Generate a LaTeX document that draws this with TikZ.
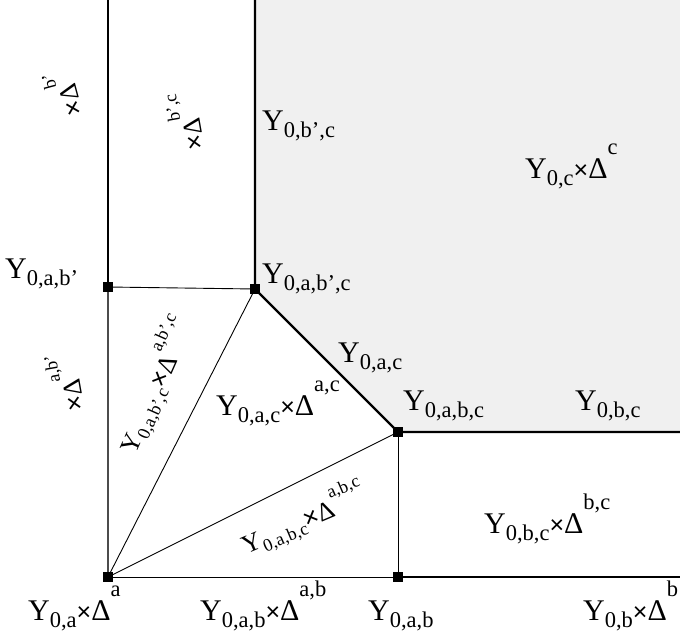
\documentclass[tikz,border=0pt]{standalone}
\usepackage{fontspec}
\setmainfont{Liberation Serif}
\newfontfamily\sansx{Liberation Sans}
\newcommand\mainsz{\fontsize{30}{32}\selectfont}
\newcommand\subsz{\fontsize{22.5}{23}\selectfont}
\newcommand\Ysb[1]{Y\raisebox{-7pt}{\subsz #1}}
\newcommand\XD[1]{{\sansx\fontsize{25}{25}\selectfont ×}Δ\raisebox{24pt}{\subsz #1}}
\newcommand\rotsz{\fontsize{26}{28}\selectfont}
\newcommand\rsub[1]{\raisebox{-5pt}{\fontsize{18}{19}\selectfont #1}}
\newcommand\rsup[1]{\raisebox{19pt}{\fontsize{18}{19}\selectfont #1}}
\tikzset{
  lab/.style={anchor=base west, inner sep=0pt, font=\mainsz},
  rlab/.style={anchor=center, inner sep=0pt, font=\rotsz, text=black},
  thick line/.style={line width=2.4pt, black},
  thin line/.style={line width=0.9pt, black},
  gray line/.style={line width=1.2pt, black!70},
  dot/.style={fill=black, minimum size=10pt, inner sep=0pt, draw=none, rectangle},
  region/.style={fill=black!6, draw=none}
}
\begin{document}
\begin{tikzpicture}[x=1pt,y=-1pt]
\useasboundingbox (0,0) rectangle (680,634);
% coordinates
\coordinate (tl) at (108,0);
\coordinate (tm) at (255,0);
\coordinate (tr) at (680,0);
\coordinate (rm) at (680,432);
\coordinate (rb) at (680,577);
\node[dot] (ab1) at (108,287) {};
\node[dot] (abc1) at (255,289) {};
\node[dot] (abc) at (398,432) {};
\node[dot] (a) at (108,577) {};
\node[dot] (ab) at (398,577) {};
% gray region
\fill[region] (tm.center) -- (tr) -- (rm) -- (abc.center) -- (abc1.center) -- cycle;
% lines
\draw[thick line] (tl) -- (ab1.center);
\draw[thick line] (tm) -- (abc1.center) -- (abc.center) -- (rm);
\draw[thick line] (ab.center) -- (rb);
\draw[gray line] (ab1.center) -- (a.center);
\draw[thin line] (ab1.center) -- (abc1.center);
\draw[thin line] (a.center) -- (abc1.center);
\draw[thin line] (a.center) -- (abc.center);
\draw[thin line] (a.center) -- (ab.center);
\draw[thin line] (abc.center) -- (ab.center);
% redraw dots on top
\foreach \n in {ab1,abc1,abc,a,ab} \fill (\n.south west) rectangle (\n.north east);
% labels
\node[lab] (l1) at (262,130) {\Ysb{0,b’,c}};
\node[lab] (l2) at (525,178) {\Ysb{0,c}\XD{c}};
\node[lab] (l3) at (5,278) {\Ysb{0,a,b’}};
\node[lab] (l4) at (262,283) {\Ysb{0,a,b’,c}};
\node[lab] (l5) at (338,362) {\Ysb{0,a,c}};
\node[lab] (l6) at (403,410) {\Ysb{0,a,b,c}};
\node[lab] (l7) at (575,410) {\Ysb{0,b,c}};
\node[lab] (l8) at (216,415) {\Ysb{0,a,c}\XD{a,c}};
\node[lab] (l9) at (484,533) {\Ysb{0,b,c}\XD{b,c}};
\node[lab] (l10) at (28,620) {\Ysb{0,a}\XD{a}};
\node[lab] (l11) at (200,620) {\Ysb{0,a,b}\XD{a,b}};
\node[lab] (l12) at (368,620) {\Ysb{0,a,b}};
\node[lab] (l13) at (583,620) {\Ysb{0,b}\XD{b}};
% rotated labels
\node[rlab, rotate=105] (r1) at (62,95) {{\sansx ×}Δ\rsup{b’}};
\node[rlab, rotate=100] (r2) at (184,122) {{\sansx ×}Δ\rsup{b’,c}};
\node[rlab, rotate=100] (r3) at (64,383) {{\sansx ×}Δ\rsup{a,b’}};
\node[rlab, rotate=66] (r4) at (154,385) {Y\rsub{0,a,b’,c}{\sansx ×}Δ\rsup{a,b’,c}};
\node[rlab, rotate=23] (r5) at (303,518) {Y\rsub{0,a,b,c}{\sansx ×}Δ\rsup{a,b,c}};
\end{tikzpicture}
\end{document}
